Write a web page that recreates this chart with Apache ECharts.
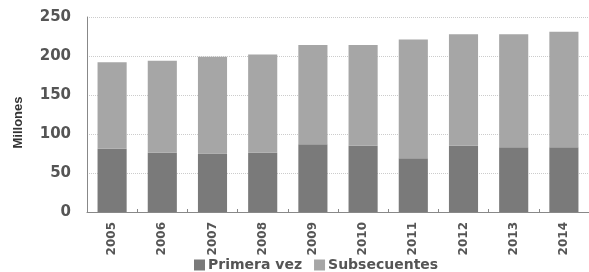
<!DOCTYPE html>
<html>
<head>
<meta charset="utf-8">
<script src="https://cdn.jsdelivr.net/npm/echarts@6/dist/echarts.min.js"></script>
<style>
  html, body { margin: 0; padding: 0; background: #fff; }
  #chart { width: 589px; height: 272px; }
</style>
</head>
<body>
<div id="chart"></div>
<script>
const years = ['2005', '2006', '2007', '2008', '2009', '2010', '2011', '2012', '2013', '2014']
const primeraVez = [81, 76, 75, 76, 87, 85, 69, 85, 83, 83]
const subsecuentes = [111, 118, 124, 126, 127, 129, 152, 143, 145, 148]
const yTicks = [0, 50, 100, 150, 200, 250]

const myChart = echarts.init(document.getElementById('chart'))

const option = {
  animation: false,
  textStyle: { fontFamily: 'DejaVu Sans' },
  grid: {
    left: 87,
    top: 17,
    width: 509,
    height: 195,
    containLabel: false,
  },
  legend: {
    top: 253,
    left: 189,
    itemWidth: 11,
    itemHeight: 11,
    itemGap: 12,
    icon: 'rect',
    textStyle: { color: '#555', fontSize: 14, fontWeight: 'bold', fontFamily: 'DejaVu Sans', padding: [0, 0, 0, -2] },
    data: ['Primera vez', 'Subsecuentes'],
  },
  xAxis: {
    type: 'category',
    data: years,
    axisLine: { lineStyle: { color: '#888', width: 1 } },
    axisTick: { show: true, inside: true, length: 3, lineStyle: { color: '#888' } },
    axisLabel: {
      rotate: 90,
      color: '#555',
      fontSize: 12,
      fontWeight: 'bold',
      margin: 10,
    },
  },
  yAxis: {
    type: 'value',
    min: yTicks[0],
    max: yTicks[yTicks.length - 1],
    interval: 50,
    name: 'Millones',
    nameLocation: 'middle',
    nameGap: 62,
    nameTextStyle: { color: '#333', fontSize: 13, fontWeight: 'bold', fontFamily: 'Liberation Sans', padding: [0, 16, 0, 0] },
    axisLine: { show: true, lineStyle: { color: '#888', width: 1 } },
    axisTick: { show: false },
    axisLabel: { color: '#555', fontSize: 15, fontWeight: 'bold', margin: 16 },
    splitLine: { lineStyle: { color: '#ccc', type: 'dotted' } },
  },
  series: [
    {
      name: 'Primera vez',
      type: 'bar',
      stack: 'total',
      barWidth: '58%',
      data: primeraVez,
      itemStyle: { color: '#7a7a7a' },
    },
    {
      name: 'Subsecuentes',
      type: 'bar',
      stack: 'total',
      data: subsecuentes,
      itemStyle: { color: '#a6a6a6' },
    },
  ],
}

myChart.setOption(option)
</script>
</body>
</html>
